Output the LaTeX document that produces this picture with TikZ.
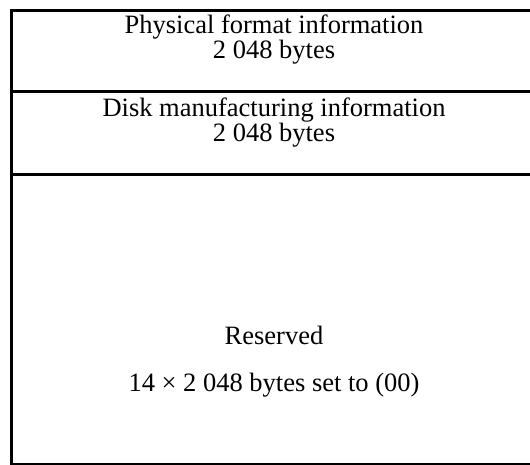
\documentclass[tikz,border=0pt]{standalone}
\usepackage{fontspec}
\setmainfont{Liberation Serif}
\usetikzlibrary{positioning}
\tikzset{
  field/.style={draw, rectangle, line width=3.4pt, minimum width=525.3pt, inner sep=0pt},
  lbl/.style={font=\fontsize{26.5}{23}\selectfont, align=center, inner sep=0pt, anchor=base},
}

\begin{document}
\begin{tikzpicture}[x=1pt,y=1pt]
\useasboundingbox (0,0) rectangle (530,464);
% layout fields
\node[field, minimum height=80.6pt] (pfi) at (274.35,413) {};
\node[field, minimum height=83.4pt] (dmi) at (274.35,331) {};
\node[field, minimum height=289.9pt] (rsv) at (274.35,144.35) {};
% texts (base = last line)
\node[lbl] (pfitxt) at (274,405) {Physical format information\\2 048 bytes};
\node[lbl] (dmitxt) at (274,322.5) {Disk manufacturing information\\2 048 bytes};
\node[lbl] (rsvtxt) at (274,72.3) {Reserved\\[24.7pt]14 × 2 048 bytes set to (00)};
\end{tikzpicture}
\end{document}
